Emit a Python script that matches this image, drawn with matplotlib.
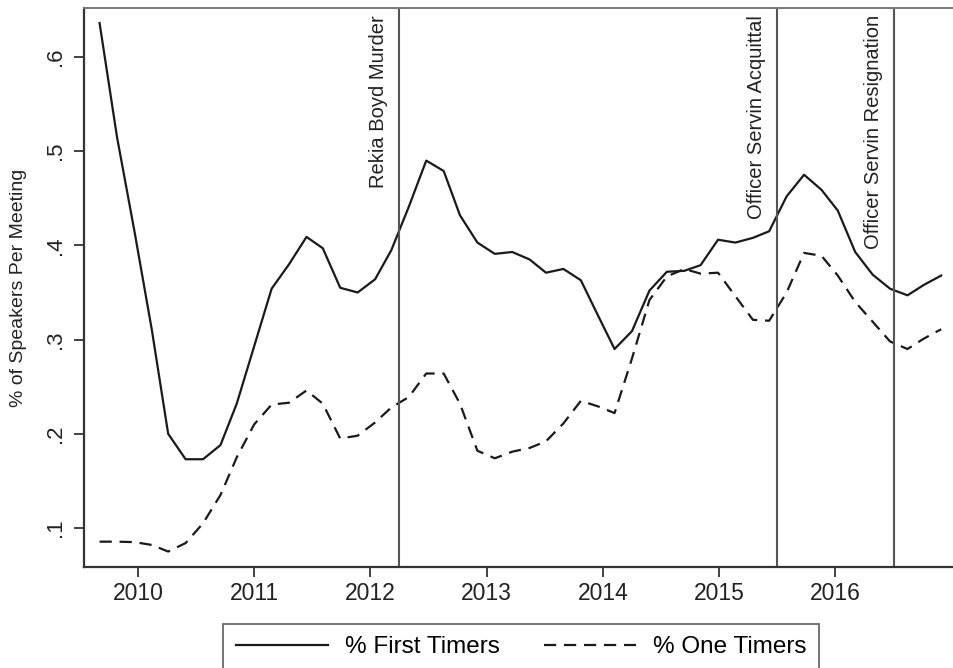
import matplotlib.pyplot as plt

plt.rcParams['font.family'] = ['Liberation Sans', 'DejaVu Sans']

# meeting dates (decimal years) and shares of speakers
years = [2009.67, 2009.82, 2009.97, 2010.12, 2010.26, 2010.41, 2010.56, 2010.71,
         2010.85, 2011.00, 2011.15, 2011.30, 2011.45, 2011.59, 2011.74, 2011.89,
         2012.04, 2012.18, 2012.33, 2012.48, 2012.63, 2012.77, 2012.92, 2013.07,
         2013.22, 2013.37, 2013.51, 2013.66, 2013.81, 2013.96, 2014.10, 2014.25,
         2014.40, 2014.55, 2014.70, 2014.84, 2014.99, 2015.14, 2015.29, 2015.43,
         2015.58, 2015.73, 2015.88, 2016.02, 2016.17, 2016.32, 2016.47, 2016.62,
         2016.76, 2016.91]

first_timers = [0.636, 0.515, 0.415, 0.310, 0.200, 0.173, 0.173, 0.188,
                0.232, 0.293, 0.354, 0.380, 0.409, 0.397, 0.355, 0.350,
                0.364, 0.395, 0.441, 0.490, 0.479, 0.432, 0.403, 0.391,
                0.393, 0.385, 0.371, 0.375, 0.363, 0.325, 0.290, 0.309,
                0.352, 0.372, 0.373, 0.379, 0.406, 0.403, 0.408, 0.415,
                0.452, 0.475, 0.459, 0.437, 0.393, 0.369, 0.354, 0.347,
                0.358, 0.368]

one_timers = [0.0855, 0.0855, 0.085, 0.082, 0.075, 0.084, 0.105, 0.135,
              0.175, 0.210, 0.231, 0.233, 0.246, 0.232, 0.195, 0.198,
              0.212, 0.228, 0.239, 0.264, 0.264, 0.232, 0.182, 0.174,
              0.181, 0.185, 0.192, 0.211, 0.235, 0.229, 0.222, 0.280,
              0.342, 0.367, 0.375, 0.370, 0.371, 0.346, 0.321, 0.320,
              0.350, 0.392, 0.389, 0.368, 0.340, 0.319, 0.298, 0.290,
              0.301, 0.311]

event_dates = [2012.25, 2015.5, 2016.5]
event_labels = ['Rekia Boyd Murder', 'Officer Servin Acquittal',
                'Officer Servin Resignation']

x_ticks = [2010, 2011, 2012, 2013, 2014, 2015, 2016]
y_ticks = [0.1, 0.2, 0.3, 0.4, 0.5, 0.6]
y_tick_labels = ['.1', '.2', '.3', '.4', '.5', '.6']

fig = plt.figure(figsize=(9.54, 6.68), dpi=100)
ax = fig.add_axes([84 / 954, 1 - 567 / 668, 870 / 954, 559 / 668])

line_color = '#1a1a1a'
ax.plot(years, first_timers, color=line_color, lw=1.6, label='% First Timers')
ax.plot(years, one_timers, color=line_color, lw=1.6, linestyle=(0, (5.5, 3.5)),
        label='% One Timers')

# event markers
for d, lab in zip(event_dates, event_labels):
    ax.axvline(d, color='#555555', lw=1.5)
    ax.annotate(lab, xy=(d, 1.0), xycoords=('data', 'axes fraction'),
                xytext=(-11, -7), textcoords='offset pixels',
                rotation=90, ha='right', va='top', fontsize=14.5,
                color='#222222')

ax.set_xlim(2009.536, 2017.02)
ax.set_ylim(0.0586, 0.652)

ax.set_xticks(x_ticks)
ax.set_xticklabels([str(t) for t in x_ticks], fontsize=16.5, color='#222222')
ax.set_yticks(y_ticks)
ax.set_yticklabels(y_tick_labels, fontsize=16, color='#222222',
                   rotation=90, va='center')
ax.tick_params(axis='both', length=7, width=1.3, color='#333333')
ax.tick_params(axis='x', pad=4)
ax.tick_params(axis='y', pad=6)

ax.set_ylabel('% of Speakers Per Meeting', fontsize=14, color='#222222',
              labelpad=13)

for side in ['left', 'bottom']:
    ax.spines[side].set_linewidth(1.6)
    ax.spines[side].set_color('#333333')
ax.spines['top'].set_linewidth(1.4)
ax.spines['top'].set_color('#777777')
ax.spines['right'].set_visible(False)

leg = fig.legend(loc='upper center', bbox_to_anchor=(521 / 954, 1 - 624 / 668),
                 ncol=2, fontsize=17.5, handlelength=3.8, handletextpad=0.7,
                 columnspacing=1.8, borderpad=0.5, borderaxespad=0,
                 fancybox=False, frameon=True)
leg.get_frame().set_edgecolor('#444444')
leg.get_frame().set_linewidth(1.3)

fig.savefig('out.png', dpi=100)
